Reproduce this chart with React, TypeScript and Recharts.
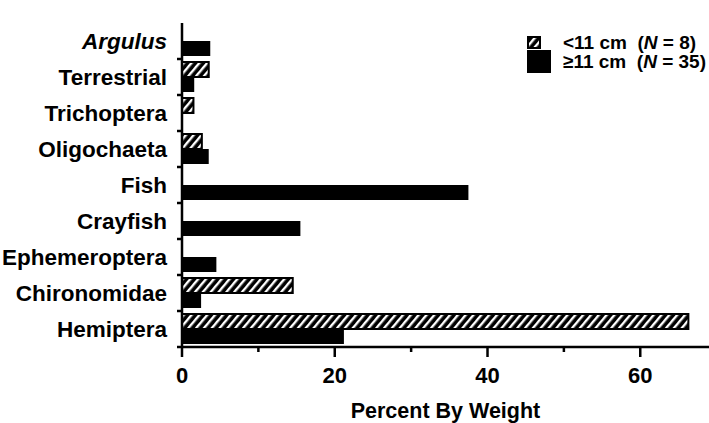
import { BarChart, Bar, XAxis, YAxis, Legend } from 'recharts';

const prey = [
  'Argulus',
  'Terrestrial',
  'Trichoptera',
  'Oligochaeta',
  'Fish',
  'Crayfish',
  'Ephemeroptera',
  'Chironomidae',
  'Hemiptera',
];
const smallFish = [0, 3.5, 1.5, 2.6, 0, 0, 0, 14.5, 66.3];
const largeFish = [3.7, 1.6, 0, 3.5, 37.5, 15.5, 4.5, 2.5, 21.2];
const sizeClasses = ['<11 cm', '≥11 cm'];
const sampleSizes = [8, 35];
const xTicks = [0, 10, 20, 30, 40, 50, 60];

const FONT = '"Liberation Sans", Arial, sans-serif';

const data = prey.map((name, i) => ({
  name,
  small: smallFish[i],
  large: largeFish[i],
}));

// prey label with a tick mark on the lower edge of each band
function PreyTick(props: any) {
  const { x, y, payload } = props;
  const half = payload.offset ?? 18;
  return (
    <g>
      <line x1={x - 5} x2={x} y1={y + half} y2={y + half} stroke="#000" strokeWidth={2.5} />
      <text
        x={x - 15}
        y={y}
        dy="0.36em"
        textAnchor="end"
        fontFamily={FONT}
        fontSize={22.5}
        fontWeight="bold"
        fontStyle={payload.value === 'Argulus' ? 'italic' : 'normal'}
        fill="#000"
      >
        {payload.value}
      </text>
    </g>
  );
}

// long ticks with labels every 20, short ones between
function PercentTick(props: any) {
  const { x, y, payload } = props;
  const major = payload.value % 20 === 0;
  return (
    <g>
      <line x1={x} x2={x} y1={y} y2={y + (major ? 10 : 5)} stroke="#000" strokeWidth={2.5} />
      {major && (
        <text
          x={x}
          y={y + 20}
          dy="0.71em"
          textAnchor="middle"
          fontFamily={FONT}
          fontSize={22}
          fontWeight="bold"
          fill="#000"
        >
          {payload.value}
        </text>
      )}
    </g>
  );
}

function SizeLegend() {
  const text: React.CSSProperties = {
    position: 'absolute',
    left: 36,
    whiteSpace: 'pre',
    fontFamily: FONT,
    fontSize: 19,
    fontWeight: 'bold',
    lineHeight: '20px',
    color: '#000',
  };
  return (
    <div style={{ position: 'relative', width: 182, height: 40 }}>
      <svg width={14} height={13} style={{ position: 'absolute', left: 0, top: 0 }}>
        <rect x={1} y={1} width={12} height={11} fill="url(#hatch)" stroke="#000" strokeWidth={2} />
      </svg>
      <div style={{ position: 'absolute', left: 0, top: 14, width: 24, height: 23, background: '#000' }} />
      {sizeClasses.map((label, i) => (
        <div key={label} style={{ ...text, top: i === 0 ? -3 : 16 }}>
          {label + '  ('}
          <i>N</i>
          {' = ' + sampleSizes[i] + ')'}
        </div>
      ))}
    </div>
  );
}

export default function App() {
  return (
    <div style={{ position: 'absolute', left: 0, top: 0, background: '#fff' }}>
      <BarChart
        width={709}
        height={423}
        data={data}
        layout="vertical"
        margin={{ top: 23, right: 0, bottom: 0, left: 0 }}
        barCategoryGap={3}
        barGap={0}
      >
        <defs>
          <pattern
            id="hatch"
            width={6}
            height={6}
            patternUnits="userSpaceOnUse"
            patternTransform="rotate(40)"
          >
            <rect width={6} height={6} fill="#000" />
            <rect x={0} y={0} width={2.4} height={6} fill="#fff" />
          </pattern>
        </defs>
        <XAxis
          type="number"
          domain={[0, 69]}
          ticks={xTicks}
          allowDataOverflow
          height={76}
          axisLine={{ stroke: '#000', strokeWidth: 2.5 }}
          tickLine={false}
          tickSize={0}
          tickMargin={0}
          tick={<PercentTick />}
          interval={0}
          label={{
            value: 'Percent By Weight',
            position: 'insideBottom',
            offset: 5,
            fontFamily: FONT,
            fontSize: 21.5,
            fontWeight: 'bold',
            fill: '#000',
          }}
        />
        <YAxis
          type="category"
          dataKey="name"
          width={182}
          axisLine={{ stroke: '#000', strokeWidth: 2.5 }}
          tickLine={false}
          tickSize={0}
          tickMargin={0}
          tick={<PreyTick />}
          interval={0}
        />
        <Legend
          layout="vertical"
          align="center"
          verticalAlign="middle"
          wrapperStyle={{ left: 527, top: 36, width: 182 }}
          content={<SizeLegend />}
        />
        <Bar
          dataKey="small"
          name={sizeClasses[0]}
          fill="url(#hatch)"
          stroke="#000"
          strokeWidth={2}
          isAnimationActive={false}
        />
        <Bar dataKey="large" name={sizeClasses[1]} fill="#000" isAnimationActive={false} />
      </BarChart>
    </div>
  );
}
